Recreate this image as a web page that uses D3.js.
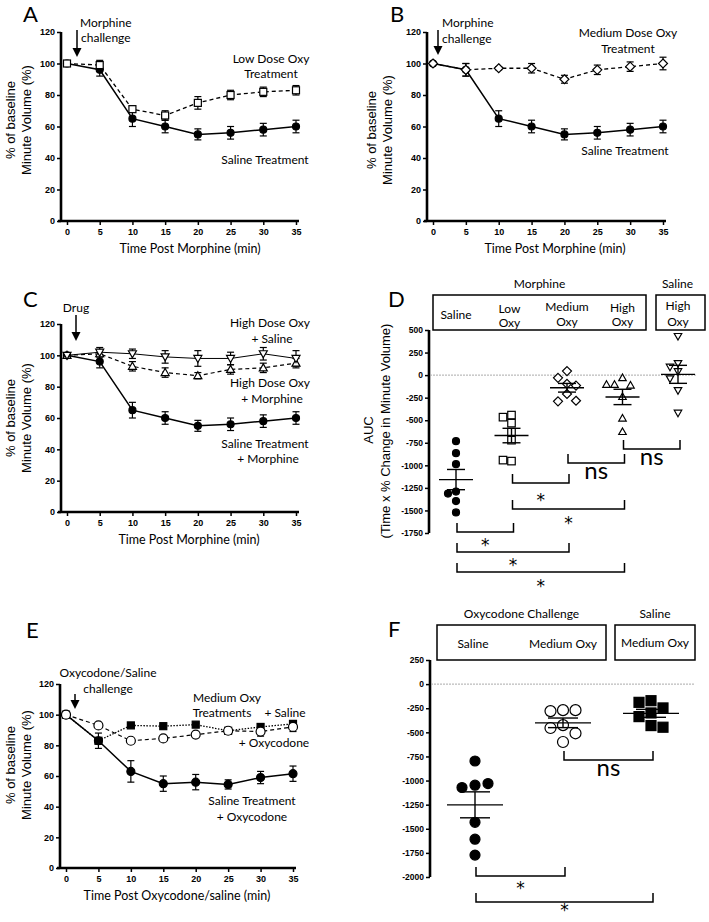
<!DOCTYPE html>
<html><head><meta charset="utf-8">
<script src="https://cdn.jsdelivr.net/npm/d3@7"></script>
<style>body{margin:0;background:#fff} svg{display:block}</style>
</head><body>
<script>
// ---------- DATA ----------
const times = [0,5,10,15,20,25,30,35];
const lineTicksY = [0,20,40,60,80,100,120];
const lineTicksX = [0,5,10,15,20,25,30,35];

const salineMorphine    = [100,96,65,60,55,56,58,60];
const salineMorphineSem = [0,4,5,4,3.5,4,4,4];
const lowOxy            = [100,99,71,67,75,80,82,83];
const lowOxySem         = [0,3,2,3,4,3,3,3];
const medOxy            = [100,96,97,97,90,96,98,100];
const medOxySem         = [0,4,1,3,2.5,3,3,4];
const highOxySaline     = [100,102,101,99,98,98,101,98];
const highOxySalineSem  = [0,3,3,4,5,4,4,5];
const highOxyMorphine   = [100,101,93,89,87,91,92,95];
const highOxyMorphineSem= [0,2,3,3,2,3,3,3];
const salineOxy         = [100,83,63,55,56,54.5,59,61.5];
const salineOxySem      = [0,5,7,5,5,3,4,5];
const medOxySaline      = [100,83,93,92.5,93.5,89.5,92,94];
const medOxySalineSem   = [0,2,1,1,1,1,2,2];
const medOxyOxy         = [100,93,83,84.5,87,89.5,89,92];
const medOxyOxySem      = [0,1,1,1,1,2,3,3];

const aucDCategories = ["Saline","Low Oxy","Medium Oxy","High Oxy","Saline High Oxy"];
const aucDSaline     = [-732,-865,-987,-1291,-1313,-1396,-1522];
const aucDLowOxy     = [-443,-466,-532,-632,-721,-953,-942];
const aucDMedOxy     = [45,-30,-97,-116,-209,-291,-284];
const aucDHighOxy    = [-30,-104,-112,-104,-239,-478,-627];
const aucDSalHighOxy = [430,130,90,40,-40,-170,-420];
const aucDTicks      = [500,250,0,-250,-500,-750,-1000,-1250,-1500,-1750];
const bracketsD = [
  ["High Oxy","Saline High Oxy","ns"],
  ["Medium Oxy","High Oxy","ns"],
  ["Low Oxy","Medium Oxy","*"],
  ["Low Oxy","High Oxy","*"],
  ["Saline","Low Oxy","*"],
  ["Saline","Medium Oxy","*"],
  ["Saline","High Oxy","*"]
];

const aucFCategories = ["Saline","Medium Oxy","Saline Medium Oxy"];
const aucFSaline     = [-797,-1048,-1072,-1031,-1433,-1608,-1773];
const aucFMedOxy     = [-270,-280,-270,-425,-455,-510,-600];
const aucFSalMedOxy  = [-172,-189,-247,-299,-337,-430,-447];
const aucFTicks      = [250,0,-250,-500,-750,-1000,-1250,-1500,-1750,-2000];
const bracketsF = [
  ["Medium Oxy","Saline Medium Oxy","ns"],
  ["Saline","Medium Oxy","*"],
  ["Saline","Saline Medium Oxy","*"]
];

// ---------- DRAW ----------
const W = 709, H = 922;
const FT = "'Liberation Sans', Arial, sans-serif";
const FL = "Lato, sans-serif";
const FS = "'DejaVu Sans', sans-serif";
const svg = d3.select("body").append("svg").attr("width", W).attr("height", H);

function txt(g, s, x, y, size, anchor, font) {
  return g.append("text").attr("x", x).attr("y", y).attr("font-size", size)
    .attr("font-family", font || FL).attr("text-anchor", anchor || "middle").attr("fill", "#000").text(s);
}
function marker(g, shape, x, y, s, filled) {
  const h = s / 2;
  let el;
  if (shape === "circle") el = g.append("circle").attr("cx", x).attr("cy", y).attr("r", h);
  else if (shape === "square") el = g.append("rect").attr("x", x - h).attr("y", y - h).attr("width", s).attr("height", s);
  else {
    let d;
    if (shape === "diamond") d = `M${x},${y-h}L${x+h},${y}L${x},${y+h}L${x-h},${y}Z`;
    else if (shape === "triUp") d = `M${x},${y-h}L${x+h},${y+h*0.75}L${x-h},${y+h*0.75}Z`;
    else d = `M${x},${y+h}L${x+h},${y-h*0.75}L${x-h},${y-h*0.75}Z`;
    el = g.append("path").attr("d", d);
  }
  el.attr("fill", filled ? "#000" : "#fff").attr("stroke", "#000").attr("stroke-width", 1.2);
}
function arrow(g, x, y1, tip) {
  g.append("line").attr("x1", x).attr("x2", x).attr("y1", y1).attr("y2", tip - 8)
    .attr("stroke", "#000").attr("stroke-width", 1.5);
  g.append("path").attr("d", `M${x-4.5},${tip-9}L${x+4.5},${tip-9}L${x},${tip}Z`).attr("fill", "#000");
}

function linePanel(o) {
  const g = svg.append("g");
  const x = d3.scaleLinear([0, 35], o.xr);
  const y = d3.scaleLinear([0, 120], o.yr);
  const gy = g.append("g").attr("transform", `translate(${o.axisX},0)`)
    .call(d3.axisLeft(y).tickValues(lineTicksY).tickSize(4).tickPadding(2));
  const gx = g.append("g").attr("transform", `translate(0,${y(0)})`)
    .call(d3.axisBottom(x).tickValues(lineTicksX).tickSize(4).tickPadding(4));
  [gy, gx].forEach(a => {
    a.select(".domain").remove();
    a.selectAll(".tick line").attr("stroke", "#000").attr("stroke-width", 1.5);
    a.selectAll(".tick text").attr("font-family", FT).attr("font-weight", "bold").attr("font-size", 9).attr("fill", "#000");
  });
  g.append("line").attr("x1", o.axisX).attr("x2", o.axisX).attr("y1", y(0)).attr("y2", y(120))
    .attr("stroke", "#000").attr("stroke-width", 2.6);
  g.append("line").attr("x1", o.axisX - 3).attr("x2", x(35) + 3).attr("y1", y(0)).attr("y2", y(0))
    .attr("stroke", "#000").attr("stroke-width", 2.6);

  const line = d3.line().x((d, i) => x(times[i])).y(d => y(d));
  o.series.forEach(s => {
    g.append("path").attr("d", line(s.vals)).attr("fill", "none").attr("stroke", "#000")
      .attr("stroke-width", s.width).attr("stroke-dasharray", s.dash || null);
    s.vals.forEach((v, i) => {
      const e = s.sem[i];
      if (!e) return;
      const cx = x(times[i]);
      g.append("line").attr("x1", cx).attr("x2", cx).attr("y1", y(v - e)).attr("y2", y(v + e)).attr("stroke", "#000").attr("stroke-width", 1.2);
      [v - e, v + e].forEach(w => g.append("line").attr("x1", cx - 3.5).attr("x2", cx + 3.5)
        .attr("y1", y(w)).attr("y2", y(w)).attr("stroke", "#000").attr("stroke-width", 1.2));
    });
  });
  o.series.forEach(s => s.vals.forEach((v, i) => marker(g, s.shape, x(times[i]), y(v), s.size, s.filled)));

  txt(g, o.xTitle, o.xTitleX, y(0) + 32, 12.5);
  const cy = o.yTitleY;
  g.append("text").attr("transform", `translate(${o.yTitleX},${cy}) rotate(-90)`).attr("text-anchor", "middle")
    .attr("font-family", FT).attr("font-size", 13).text("% of baseline");
  g.append("text").attr("transform", `translate(${o.yTitleX + 16},${cy}) rotate(-90)`).attr("text-anchor", "middle")
    .attr("font-family", FT).attr("font-size", 13).text("Minute Volume (%)");
  return g;
}

// Panel A
const gA = linePanel({
  xr: [67, 296], yr: [221, 32], axisX: 61,
  xTitle: "Time Post Morphine (min)", xTitleX: 190, yTitleX: 15, yTitleY: 120,
  series: [
    {vals: salineMorphine, sem: salineMorphineSem, shape: "circle", filled: true, size: 7, width: 1.5},
    {vals: lowOxy, sem: lowOxySem, shape: "square", filled: false, size: 7, width: 1.3, dash: "4,3"}
  ]
});
txt(gA, "A", 23, 22, 22, "start");
txt(gA, "Morphine", 80, 27, 12, "start");
txt(gA, "challenge", 81, 42, 12, "start");
arrow(gA, 77, 30, 57);
txt(gA, "Low Dose Oxy", 271, 63, 12);
txt(gA, "Treatment", 271, 78, 12);
txt(gA, "Saline Treatment", 265, 164, 12);

// Panel B
const gB = linePanel({
  xr: [433, 663], yr: [221, 32], axisX: 427,
  xTitle: "Time Post Morphine (min)", xTitleX: 555, yTitleX: 376, yTitleY: 130,
  series: [
    {vals: salineMorphine, sem: salineMorphineSem, shape: "circle", filled: true, size: 7, width: 1.5},
    {vals: medOxy, sem: medOxySem, shape: "diamond", filled: false, size: 9, width: 1.3, dash: "4,3"}
  ]
});
txt(gB, "B", 390, 22, 22, "start");
txt(gB, "Morphine", 442, 27, 12, "start");
txt(gB, "challenge", 442, 43, 12, "start");
arrow(gB, 438, 30, 55);
txt(gB, "Medium Dose Oxy", 628, 37, 12);
txt(gB, "Treatment", 628, 53, 12);
txt(gB, "Saline Treatment", 625, 155, 12);

// Panel C
const gC = linePanel({
  xr: [67, 296], yr: [512, 324], axisX: 61,
  xTitle: "Time Post Morphine (min)", xTitleX: 189, yTitleX: 15, yTitleY: 418,
  series: [
    {vals: salineMorphine, sem: salineMorphineSem, shape: "circle", filled: true, size: 7, width: 1.5},
    {vals: highOxyMorphine, sem: highOxyMorphineSem, shape: "triUp", filled: false, size: 8, width: 1.2, dash: "4,3"},
    {vals: highOxySaline, sem: highOxySalineSem, shape: "triDown", filled: false, size: 8, width: 1}
  ]
});
txt(gC, "C", 23, 307, 22, "start");
txt(gC, "Drug", 76, 312, 12);
arrow(gC, 76, 315, 341);
txt(gC, "High Dose Oxy", 270, 327, 12);
txt(gC, "+ Saline", 272, 343, 12);
txt(gC, "High Dose Oxy", 270, 387, 12);
txt(gC, "+ Morphine", 272, 403, 12);
txt(gC, "Saline Treatment", 265, 448, 12);
txt(gC, "+ Morphine", 268, 463, 12);

// Panel E
const gE = linePanel({
  xr: [66, 293], yr: [868, 684], axisX: 60,
  xTitle: "Time Post Oxycodone/saline (min)", xTitleX: 177, yTitleX: 15, yTitleY: 765,
  series: [
    {vals: salineOxy, sem: salineOxySem, shape: "circle", filled: true, size: 8, width: 1.5},
    {vals: medOxySaline, sem: medOxySalineSem, shape: "square", filled: true, size: 7, width: 1.3, dash: "1.5,1.5"},
    {vals: medOxyOxy, sem: medOxyOxySem, shape: "circle", filled: false, size: 9, width: 1.2, dash: "4,3"}
  ]
});
txt(gE, "E", 26, 638, 22, "start");
txt(gE, "Oxycodone/Saline", 108, 677, 12);
txt(gE, "challenge", 108, 693, 12);
arrow(gE, 75, 694, 709);
txt(gE, "Medium Oxy", 227, 702, 12);
txt(gE, "Treatments", 222, 717, 12);
txt(gE, "+ Saline", 285, 717, 12);
txt(gE, "+ Oxycodone", 274, 747, 12);
txt(gE, "Saline Treatment", 252, 805, 12);
txt(gE, "+ Oxycodone", 252, 821, 12);

// ---------- AUC panels ----------
function dodge(values, y, cx, s) {
  const placed = [];
  const cands = [0];
  for (let i = 1; i < 6; i++) cands.push(-i * s, i * s);
  return values.map(v => {
    const py = y(v);
    let px = cx;
    for (const dx of cands) {
      if (placed.every(p => Math.hypot(p.x - (cx + dx), p.y - py) >= s - 0.5)) { px = cx + dx; break; }
    }
    placed.push({x: px, y: py});
    return {x: px, y: py};
  });
}
function aucPanel(o) {
  const g = svg.append("g");
  const y = d3.scaleLinear(o.domain, o.yr);
  const x = d3.scalePoint(o.cats, o.xr);
  const gy = g.append("g").attr("transform", `translate(${o.axisX},0)`)
    .call(d3.axisLeft(y).tickValues(o.ticks).tickFormat(d => String(d)).tickSize(4).tickPadding(2));
  gy.select(".domain").remove();
  gy.selectAll(".tick line").attr("stroke", "#000").attr("stroke-width", 1.5);
  gy.selectAll(".tick text").attr("font-family", FT).attr("font-weight", "bold").attr("font-size", 8.5).attr("fill", "#000");
  g.append("line").attr("x1", o.axisX).attr("x2", o.axisX).attr("y1", y(o.domain[0])).attr("y2", y(o.domain[1]))
    .attr("stroke", "#000").attr("stroke-width", 2.6);
  g.append("line").attr("x1", o.axisX + 1).attr("x2", o.zeroEnd).attr("y1", y(0)).attr("y2", y(0))
    .attr("stroke", "#aaa").attr("stroke-width", 1).attr("stroke-dasharray", "2,1");

  o.boxes.forEach(b => {
    g.append("rect").attr("x", b.x0).attr("y", b.y0).attr("width", b.x1 - b.x0).attr("height", y(o.domain[1]) - b.y0)
      .attr("fill", "none").attr("stroke", "#000").attr("stroke-width", 1.5);
    txt(g, b.label, (b.x0 + b.x1) / 2 + (b.dx || 0), b.y0 - 7, 12);
  });
  o.subLabels.forEach(sl => sl.lines.forEach((t, i) => txt(g, t, x(sl.cat) + (sl.dx || 0), sl.ys[i], 12)));

  o.groups.forEach(gr => {
    const cx = x(gr.cat);
    const pts = dodge(gr.values, y, cx, gr.step);
    pts.forEach(p => marker(g, gr.shape, p.x, p.y, gr.size, gr.filled));
    const m = d3.mean(gr.values);
    const sem = d3.deviation(gr.values) / Math.sqrt(gr.values.length);
    const L = (x1, x2, y1, y2) => g.append("line").attr("x1", x1).attr("x2", x2).attr("y1", y1).attr("y2", y2)
      .attr("stroke", "#000").attr("stroke-width", 1.4);
    L(cx - o.meanW, cx + o.meanW, y(m), y(m));
    L(cx - o.semW, cx + o.semW, y(m + sem), y(m + sem));
    L(cx - o.semW, cx + o.semW, y(m - sem), y(m - sem));
    L(cx, cx, y(m + sem), y(m - sem));
  });

  o.brackets.forEach((b, i) => {
    const by = o.bracketY[i];
    const x1 = x(b[0]) + 1, x2 = x(b[1]) + 2;
    g.append("path").attr("d", `M${x1},${by - 9}V${by}H${x2}V${by - 9}`)
      .attr("fill", "none").attr("stroke", "#000").attr("stroke-width", 1.5);
    const mx = (x1 + x2) / 2;
    if (b[2] === "ns") txt(g, "ns", mx, by + 16, 24);
    else txt(g, "*", mx, by + (o.starOff ? o.starOff[i] : 20), 17, "middle", FS);
  });
  return g;
}

const gD = aucPanel({
  cats: aucDCategories, xr: [456, 678], domain: [-1750, 500], yr: [533, 330], axisX: 429,
  ticks: aucDTicks, zeroEnd: 697, meanW: 17, semW: 9,
  boxes: [{x0: 433, x1: 646, y0: 295, label: "Morphine"}, {x0: 656, x1: 705, y0: 295, label: "Saline", dx: -3}],
  subLabels: [
    {cat: "Saline", lines: ["Saline"], ys: [319]},
    {cat: "Low Oxy", lines: ["Low", "Oxy"], ys: [313, 327], dx: -2},
    {cat: "Medium Oxy", lines: ["Medium", "Oxy"], ys: [311, 326]},
    {cat: "High Oxy", lines: ["High", "Oxy"], ys: [312, 326]},
    {cat: "Saline High Oxy", lines: ["High", "Oxy"], ys: [310, 326]}
  ],
  groups: [
    {cat: "Saline", values: aucDSaline, shape: "circle", filled: true, size: 7, step: 8},
    {cat: "Low Oxy", values: aucDLowOxy, shape: "square", filled: false, size: 7.5, step: 8.5},
    {cat: "Medium Oxy", values: aucDMedOxy, shape: "diamond", filled: false, size: 9, step: 9},
    {cat: "High Oxy", values: aucDHighOxy, shape: "triUp", filled: false, size: 7.5, step: 8},
    {cat: "Saline High Oxy", values: aucDSalHighOxy, shape: "triDown", filled: false, size: 7.5, step: 8}
  ],
  brackets: bracketsD, bracketY: [449, 463, 483, 509, 532, 552, 572],
  starOff: [0, 0, 23, 20, 19, 19, 20]
});
txt(gD, "D", 388, 307, 22, "start");
gD.append("text").attr("transform", "translate(373,430) rotate(-90)").attr("text-anchor", "middle")
  .attr("font-family", FT).attr("font-size", 13).text("AUC");
gD.append("text").attr("transform", "translate(390,431) rotate(-90)").attr("text-anchor", "middle")
  .attr("font-family", FT).attr("font-size", 13).text("(Time x % Change in Minute Volume)");

const gF = aucPanel({
  cats: aucFCategories, xr: [475, 651], domain: [-2000, 250], yr: [877, 660], axisX: 430,
  ticks: aucFTicks, zeroEnd: 695, meanW: 28, semW: 15,
  boxes: [{x0: 437, x1: 606, y0: 625, label: "Oxycodone Challenge"}, {x0: 615, x1: 695, y0: 625, label: "Saline"}],
  subLabels: [
    {cat: "Saline", lines: ["Saline"], ys: [648], dx: -2},
    {cat: "Medium Oxy", lines: ["Medium Oxy"], ys: [648]},
    {cat: "Saline Medium Oxy", lines: ["Medium Oxy"], ys: [647], dx: 4}
  ],
  groups: [
    {cat: "Saline", values: aucFSaline, shape: "circle", filled: true, size: 10, step: 13},
    {cat: "Medium Oxy", values: aucFMedOxy, shape: "circle", filled: false, size: 11, step: 12.5},
    {cat: "Saline Medium Oxy", values: aucFSalMedOxy, shape: "square", filled: true, size: 10, step: 12}
  ],
  brackets: bracketsF, bracketY: [760, 876, 902],
  starOff: [0, 18, 14]
});
txt(gF, "F", 388, 637, 22, "start");
</script>
</body></html>
